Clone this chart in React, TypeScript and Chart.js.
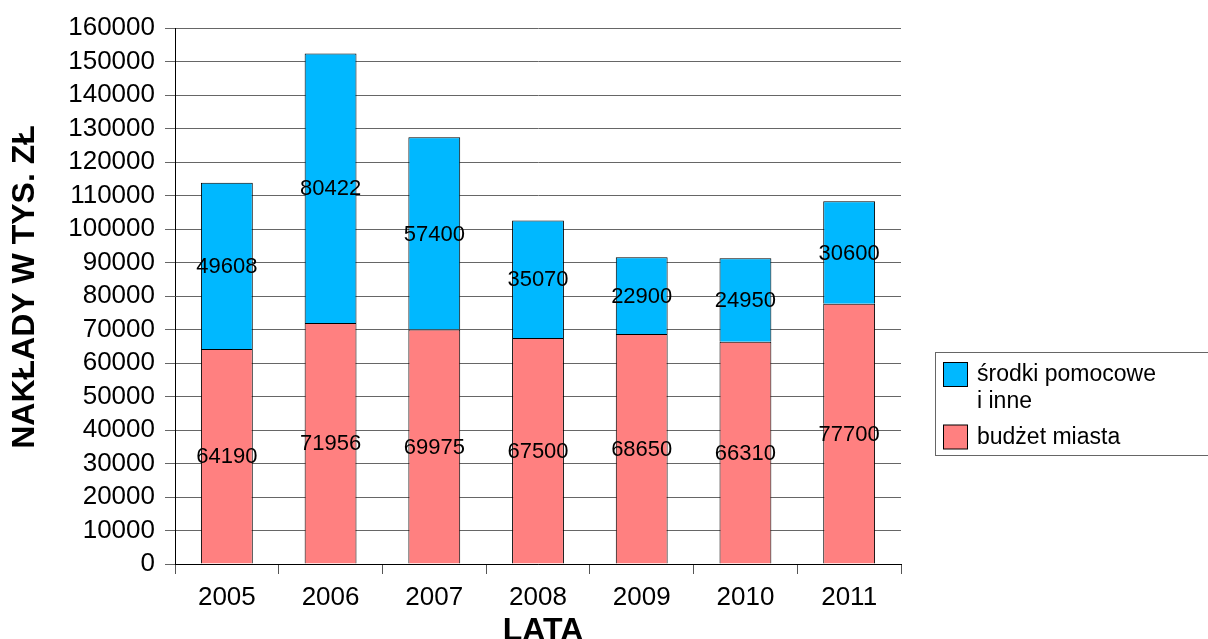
import { useEffect, useRef } from "react";
import { Chart, registerables } from "chart.js";

Chart.register(...registerables);

const years = ["2005", "2006", "2007", "2008", "2009", "2010", "2011"];
const budzetMiasta = [64190, 71956, 69975, 67500, 68650, 66310, 77700];
const srodkiPomocowe = [49608, 80422, 57400, 35070, 22900, 24950, 30600];
const budzetLabel = "budżet miasta";
const srodkiLabel = ["środki pomocowe", "i inne"];
const yTitle = "NAKŁADY W TYS. ZŁ";
const xTitle = "LATA";

const FONT = '"Liberation Sans", Arial, sans-serif';
const RED = "#ff8080";
const BLUE = "#00b8ff";

const dataLabelsPlugin = {
  id: "dataLabels",
  afterDatasetsDraw(chart: any) {
    const ctx = chart.ctx;
    ctx.save();
    ctx.font = `22px ${FONT}`;
    ctx.fillStyle = "#000";
    ctx.textAlign = "center";
    ctx.textBaseline = "middle";
    chart.data.datasets.forEach((ds: any, i: number) => {
      const meta = chart.getDatasetMeta(i);
      meta.data.forEach((bar: any, j: number) => {
        const { x, y, base } = bar.getProps(["x", "y", "base"], true);
        ctx.fillText(String(ds.data[j]), x, (y + base) / 2 + 1);
      });
    });
    ctx.restore();
  },
};

const titlesPlugin = {
  id: "axisTitles",
  afterDraw(chart: any) {
    const ctx = chart.ctx;
    const ca = chart.chartArea;
    ctx.save();
    ctx.fillStyle = "#000";
    ctx.font = `bold 32px ${FONT}`;
    ctx.textAlign = "center";
    ctx.textBaseline = "middle";
    ctx.fillText(xTitle, (ca.left + ca.right) / 2 + 5, 631);
    ctx.translate(25, (ca.top + ca.bottom) / 2 - 9);
    ctx.rotate(-Math.PI / 2);
    ctx.fillText(yTitle, 0, 0);
    ctx.restore();
  },
};

const legendPlugin = {
  id: "customLegend",
  afterDraw(chart: any) {
    const ctx = chart.ctx;
    const ds = chart.data.datasets;
    ctx.save();
    ctx.fillStyle = "#fff";
    ctx.fillRect(935.5, 352.5, 300, 103);
    ctx.strokeStyle = "#666";
    ctx.lineWidth = 1;
    ctx.strokeRect(935.5, 352.5, 300, 103);
    const entries = [
      { color: ds[1].backgroundColor, lines: srodkiLabel, y: 362 },
      { color: ds[0].backgroundColor, lines: [budzetLabel], y: 424.5 },
    ];
    ctx.font = `23px ${FONT}`;
    ctx.textAlign = "left";
    ctx.textBaseline = "alphabetic";
    entries.forEach((e) => {
      ctx.fillStyle = e.color;
      ctx.fillRect(943.5, e.y + 0.5, 24, 24);
      ctx.strokeStyle = "#000";
      ctx.strokeRect(943.5, e.y + 0.5, 24, 24);
      ctx.fillStyle = "#000";
      e.lines.forEach((l: string, k: number) => {
        ctx.fillText(l, 977, e.y + 19 + k * 27);
      });
    });
    ctx.restore();
  },
};

export default function App() {
  const ref = useRef<HTMLCanvasElement>(null);
  useEffect(() => {
    document.body.style.margin = "0";
    if (!ref.current) return;
    Chart.defaults.font.family = FONT;
    const chart = new Chart(ref.current, {
      type: "bar",
      data: {
        labels: years,
        datasets: [
          {
            label: budzetLabel,
            data: budzetMiasta,
            backgroundColor: RED,
            borderColor: "#000",
            borderWidth: 1,
            barPercentage: 0.5,
            categoryPercentage: 1,
          },
          {
            label: srodkiLabel.join(" "),
            data: srodkiPomocowe,
            backgroundColor: BLUE,
            borderColor: "#000",
            borderWidth: 1,
            barPercentage: 0.5,
            categoryPercentage: 1,
          },
        ],
      },
      options: {
        responsive: true,
        maintainAspectRatio: false,
        animation: false,
        layout: { padding: { top: 28, right: 307, left: 0, bottom: 0 } },
        plugins: {
          legend: { display: false },
          tooltip: { enabled: false },
        },
        scales: {
          x: {
            stacked: true,
            offset: true,
            afterFit: (s: any) => {
              s.height = 75;
            },
            grid: {
              offset: true,
              drawOnChartArea: false,
              drawTicks: true,
              tickLength: 10,
              color: "#555",
            },
            border: { color: "#000", width: 1 },
            ticks: {
              font: { size: 26, family: FONT },
              color: "#000",
              padding: 8,
              maxRotation: 0,
            },
          },
          y: {
            stacked: true,
            min: 0,
            max: 160000,
            afterFit: (s: any) => {
              s.width = 175;
            },
            grid: {
              color: "#666",
              tickLength: 10,
              lineWidth: 1,
            },
            border: { color: "#000", width: 1 },
            ticks: {
              stepSize: 10000,
              autoSkip: false,
              font: { size: 26, family: FONT },
              color: "#000",
              padding: 10,
              callback: (v: any) => String(v),
            },
          },
        },
      },
      plugins: [dataLabelsPlugin, titlesPlugin, legendPlugin],
    });
    return () => chart.destroy();
  }, []);
  return (
    <div style={{ width: 1208, height: 639, position: "relative" }}>
      <canvas ref={ref} />
    </div>
  );
}
